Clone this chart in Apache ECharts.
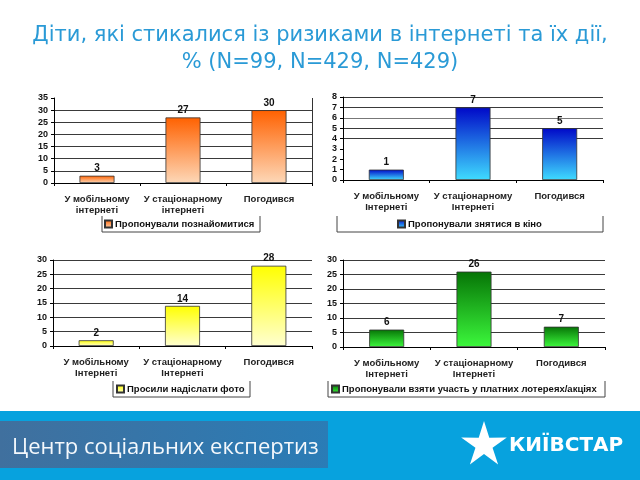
<!DOCTYPE html>
<html><head><meta charset="utf-8">
<script src="https://cdn.jsdelivr.net/npm/echarts@6/dist/echarts.min.js"></script>
<style>html,body{margin:0;padding:0;background:#fff}#c{width:640px;height:480px}</style>
</head><body><div id="c"></div>
<script>
const titleText = 'Діти, які стикалися із ризиками в інтернеті та їх дії,\n% (N=99, N=429, N=429)';
const categoriesTop = ['У мобільному\nінтернеті', 'У стаціонарному\nінтернеті', 'Погодився'];
const categoriesTopRight = ['У мобільному\nІнтернеті', 'У стаціонарному\nІнтернеті', 'Погодився'];
const categoriesBottom = ['У мобільному\nІнтернеті', 'У стаціонарному\nІнтернеті', 'Погодився'];
const seriesNames = ['Пропонували познайомитися', 'Пропонували знятися в кіно', 'Просили надіслати фото', 'Пропонували взяти участь у платних лотереях/акціях'];
const valuesMeet = [3, 27, 30];
const valuesFilm = [1, 7, 5];
const valuesPhoto = [2, 14, 28];
const valuesLottery = [6, 26, 7];
const yMaxes = [35, 8, 30, 30];
const yIntervals = [5, 1, 5, 5];
const footerLeftText = 'Центр соціальних експертиз';
const footerRightText = 'КИЇВСТАР';

const chart = echarts.init(document.getElementById('c'), null, {renderer: 'canvas'});
const FONT = 'Arial, "Liberation Sans", sans-serif';
const grids = [
  {left: 54, top: 98, width: 258, height: 85},
  {left: 343, top: 97, width: 260, height: 83},
  {left: 53, top: 260, width: 259, height: 86},
  {left: 343, top: 260, width: 262, height: 87}
];
const cats = [categoriesTop, categoriesTopRight, categoriesBottom, categoriesBottom];
const vals = [valuesMeet, valuesFilm, valuesPhoto, valuesLottery];
const grads = [
  ['#ff6100', '#fdd8b8'],
  ['#0008c8', '#3fdcff'],
  ['#ffff00', '#ffffd0'],
  ['#067406', '#3cf83c']
];
const G = '#3a3a3a', T = 'rgba(0,0,0,0)';
const splitColors = [
  [T, G, G, G, G, G, G, T],
  [T, T, T, T, G, G, '#777', G, G],
  [T, G, G, G, G, G, G],
  [T, G, G, G, G, G, G]
];
function grad(c) {
  return new echarts.graphic.LinearGradient(0, 0, 0, 1, [{offset: 0, color: c[0]}, {offset: 1, color: c[1]}]);
}
const legendPos = [
  {left: 104, top: 219},
  {left: 397, top: 219},
  {left: 116, top: 384},
  {left: 331, top: 384}
];
const option = {
  backgroundColor: '#fff',
  animation: false,
  title: {
    text: titleText, left: 'center', top: 17,
    textStyle: {color: '#2a9ad6', fontSize: 21, fontWeight: 'normal', fontFamily: '"DejaVu Sans", Verdana, sans-serif', lineHeight: 27}
  },
  grid: grids,
  xAxis: grids.map((g, i) => ({
    type: 'category', gridIndex: i, data: cats[i],
    axisLine: {lineStyle: {color: '#000', width: 1}},
    axisTick: {show: true, length: 3, lineStyle: {color: '#000'}},
    axisLabel: {color: '#222', fontSize: 9.5, fontWeight: 'bold', fontFamily: FONT, margin: 11, lineHeight: 11, interval: 0}
  })),
  yAxis: grids.map((g, i) => ({
    type: 'value', gridIndex: i, min: 0, max: yMaxes[i], interval: yIntervals[i],
    axisLine: {show: true, lineStyle: {color: '#000', width: 1}},
    axisTick: {show: true, length: 3, lineStyle: {color: '#000'}},
    axisLabel: {color: '#111', fontSize: 9, fontWeight: 'bold', fontFamily: FONT, margin: 6},
    splitLine: {show: true, lineStyle: {color: splitColors[i], width: 1}}
  })),
  legend: vals.map((v, i) => ({
    data: [seriesNames[i]], left: legendPos[i].left, top: legendPos[i].top,
    itemWidth: 7, itemHeight: 7, itemGap: 4, padding: 0, icon: 'rect',
    textStyle: {color: '#111', fontSize: 9.5, fontWeight: 'bold', fontFamily: FONT, padding: [0, 0, 0, -2]}
  })),
  series: vals.map((v, i) => ({
    type: 'bar', name: seriesNames[i], xAxisIndex: i, yAxisIndex: i, data: v, barWidth: 35,
    itemStyle: {color: grad(grads[i]), borderColor: '#333', borderWidth: 0.8},
    label: {show: true, position: 'top', color: '#111', fontSize: 10, fontWeight: 'bold', fontFamily: FONT, distance: 2}
  })),
  graphic: [
    {type: 'polyline', shape: {points: [[102, 216], [102, 232], [260, 232], [260, 216]]}, style: {stroke: '#444', fill: null, lineWidth: 1}},
    {type: 'polyline', shape: {points: [[337, 216], [337, 232], [603, 232], [603, 216]]}, style: {stroke: '#444', fill: null, lineWidth: 1}},
    {type: 'polyline', shape: {points: [[113, 381], [113, 397], [250, 397], [250, 381]]}, style: {stroke: '#444', fill: null, lineWidth: 1}},
    {type: 'polyline', shape: {points: [[328, 381], [328, 397], [605, 397], [605, 381]]}, style: {stroke: '#444', fill: null, lineWidth: 1}},
    {type: 'line', shape: {x1: 312.5, y1: 98, x2: 312.5, y2: 186}, style: {stroke: '#333', lineWidth: 1}},
    {type: 'rect', shape: {x: 0, y: 411, width: 640, height: 69}, style: {fill: '#07a2de'}, z: -1},
    {type: 'rect', shape: {x: 0, y: 421, width: 328, height: 47},
      style: {fill: new echarts.graphic.LinearGradient(0, 0, 1, 0, [{offset: 0, color: '#40709e'}, {offset: 1, color: '#2a7cb6'}])}},
    {type: 'text', left: 12, top: 437,
      style: {text: footerLeftText, fill: '#f4f8fc', font: '22px "Open Sans", sans-serif', shadowColor: 'rgba(0,0,30,0.8)', shadowBlur: 4, shadowOffsetX: 1, shadowOffsetY: 2}},
    (function () {
      const cx = 484, cy = 445, R = 24, r = 9, pts = [];
      for (let k = 0; k < 10; k++) {
        const a = -Math.PI / 2 + k * Math.PI / 5;
        const rr = k % 2 ? r : R;
        pts.push([cx + rr * Math.cos(a), cy + rr * Math.sin(a)]);
      }
      return {type: 'polygon', shape: {points: pts}, style: {fill: '#ffffff'}};
    })(),
    {type: 'text', left: 509, top: 436,
      style: {text: footerRightText, fill: '#ffffff', font: 'bold 20px "DejaVu Sans", Verdana, sans-serif'}}
  ]
};
chart.setOption(option);
</script>
</body></html>
